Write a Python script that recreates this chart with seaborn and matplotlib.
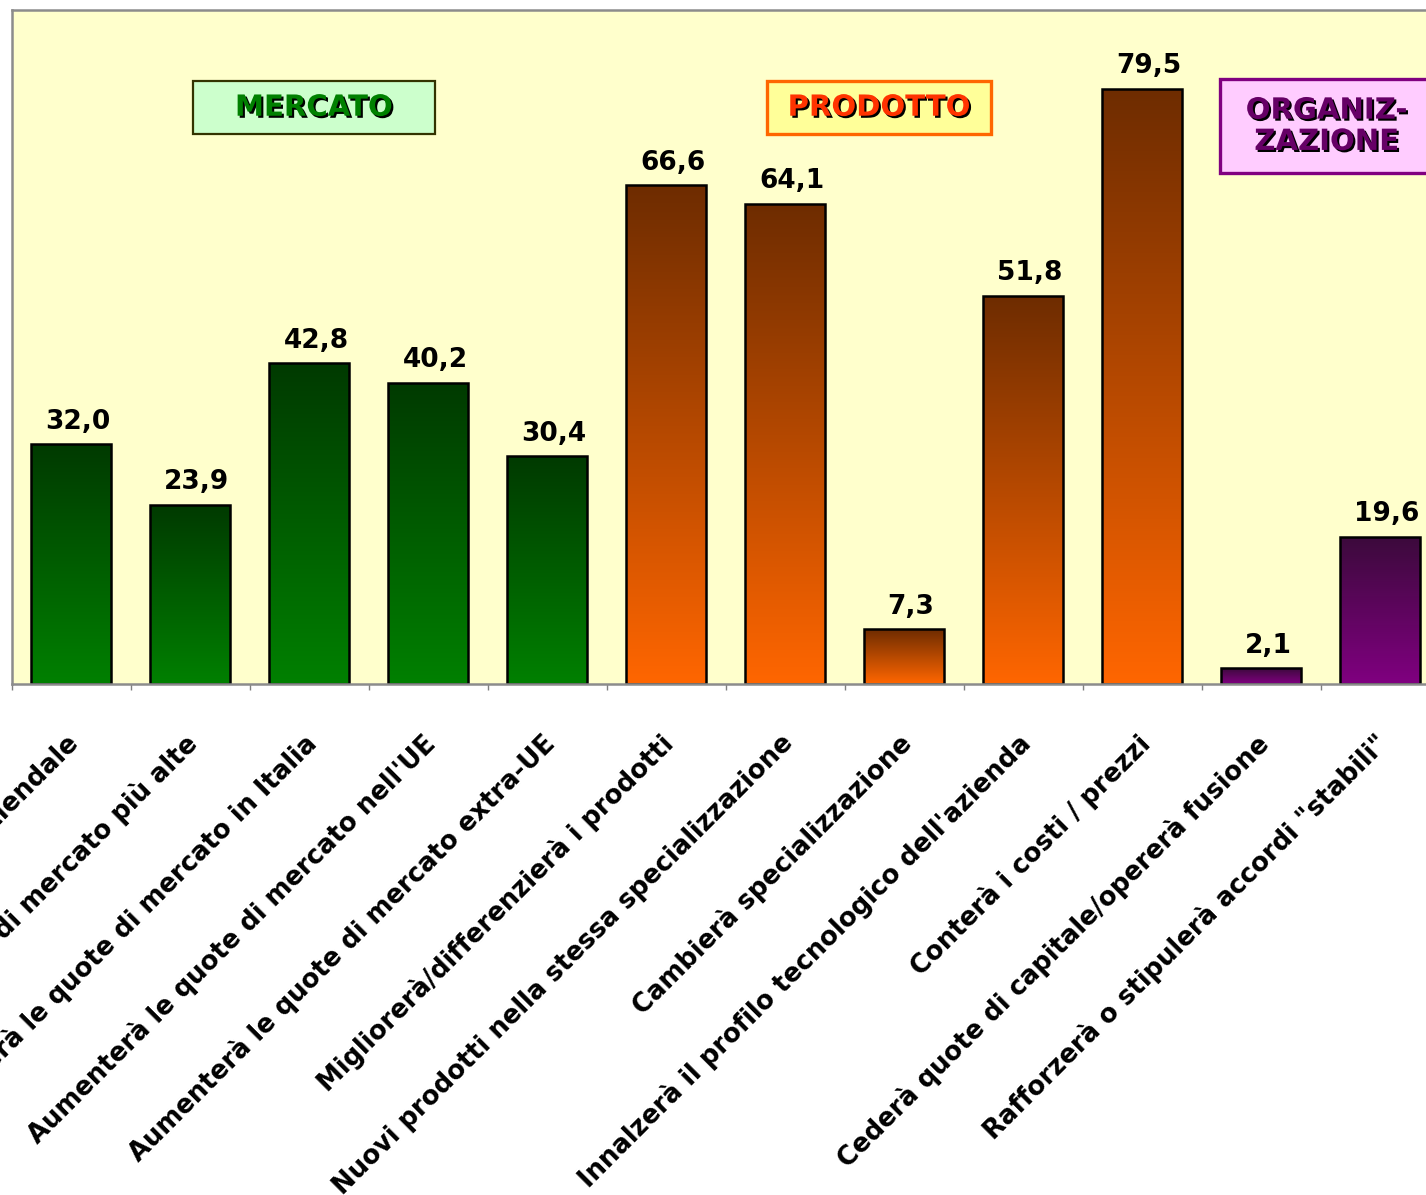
import numpy as np
import pandas as pd
import matplotlib
matplotlib.use("Agg")
import matplotlib.pyplot as plt
import matplotlib.patheffects as pe
from matplotlib.patches import Rectangle
from matplotlib.colors import to_rgb
from matplotlib.transforms import ScaledTranslation
from matplotlib.ticker import FixedLocator
import seaborn as sns

# --- data -----------------------------------------------------------------
voci = [
    "Aumenterà la dimensione aziendale",
    "Conquisterà quote di mercato più alte",
    "Aumenterà le quote di mercato in Italia",
    "Aumenterà le quote di mercato nell'UE",
    "Aumenterà le quote di mercato extra-UE",
    "Migliorerà/differenzierà i prodotti",
    "Nuovi prodotti nella stessa specializzazione",
    "Cambierà specializzazione",
    "Innalzerà il profilo tecnologico dell'azienda",
    "Conterà i costi / prezzi",
    "Cederà quote di capitale/opererà fusione",
    "Rafforzerà o stipulerà accordi \"stabili\"",
]
quote = [32.0, 23.9, 42.8, 40.2, 30.4, 66.6, 64.1, 7.3, 51.8, 79.5, 2.1, 19.6]
aree = ["Mercato"] * 5 + ["Prodotto"] * 5 + ["Organizzazione"] * 2

# gradient colours per area: (top, bottom)
gradienti = {
    "Mercato": ("#003A00", "#008000"),
    "Prodotto": ("#6E2C00", "#FF6600"),
    "Organizzazione": ("#3C0A3C", "#800080"),
}

df = pd.DataFrame({"voce": voci, "quota": quote, "area": aree})

# --- figure ---------------------------------------------------------------
sns.set_style("white")
plt.rcParams["font.family"] = ["DejaVu Sans"]
plt.rcParams["font.weight"] = "bold"
plt.rcParams["text.color"] = "black"
plt.rcParams["xtick.labelcolor"] = "black"

W, H = 1426, 1195
fig = plt.figure(figsize=(W / 100, H / 100), dpi=100, facecolor="white")
ax = fig.add_axes([11.5 / W, 511 / H, 1428 / W, 674 / H])
ax.set_facecolor("#FFFFCC")

sns.barplot(
    data=df, x="voce", y="quota", hue="area",
    palette={k: v[1] for k, v in gradienti.items()},
    dodge=False, width=0.672, legend=False,
    edgecolor="black", linewidth=1.8, ax=ax, order=voci,
)

# replace the flat fill of each bar with a vertical gradient
ramp = np.linspace(0.0, 1.0, 256)[:, None, None]
for patch in list(ax.patches):
    h = patch.get_height()
    if not np.isfinite(h) or h <= 0:
        continue
    x0 = patch.get_x()
    w = patch.get_width()
    idx = int(round(x0 + w / 2))
    top, bottom = (np.array(to_rgb(c)) for c in gradienti[aree[idx]])
    img = top[None, None, :] * (1 - ramp) + bottom[None, None, :] * ramp
    im = ax.imshow(img, extent=(x0, x0 + w, 0, h), origin="upper",
                   aspect="auto", interpolation="bilinear", zorder=1.5)
    im.set_clip_path(patch)
    patch.set_facecolor("none")
    patch.set_zorder(2)

# value labels
for cont in ax.containers:
    anns = ax.bar_label(cont, fmt=lambda v: f"{v:.1f}".replace(".", ","),
                        padding=7, fontsize=19, fontweight="bold", color="black")
    for a in anns:
        a.xyann = (5, 7)

ax.set_xlim(-0.5, len(voci) - 0.5)
ax.set_ylim(0, 90)
ax.set_xlabel("")
ax.set_ylabel("")
ax.set_yticks([])

# category labels, rotated
ax.set_xticks(range(len(voci)))
ax.set_xticklabels(voci, rotation=45, ha="right", va="center",
                   rotation_mode="anchor", fontsize=18.6, fontweight="bold",
                   color="black")
ax.tick_params(axis="x", which="major", length=0, pad=40, labelcolor="black")
shift = ScaledTranslation(4 / 100, 0, fig.dpi_scale_trans)
for lab in ax.get_xticklabels():
    lab.set_transform(lab.get_transform() + shift)
ax.xaxis.set_minor_locator(FixedLocator(np.arange(-0.5, len(voci), 1.0)))
ax.tick_params(axis="x", which="minor", length=4.5, width=1.0,
               color="#808080", direction="out", bottom=True)

for s in ax.spines.values():
    s.set_visible(True)
    s.set_color("#8C8C8C")
    s.set_linewidth(1.8)

# area boxes
shadow = [pe.withSimplePatchShadow(offset=(1.5, -1.5), shadow_rgbFace="black", alpha=1.0)]
riquadri = [
    ("MERCATO", 1.025, 73.4, 2.034, 7.1, "#CCFFCC", "#333300", 1.6, "#008000", 2.04),
    ("PRODOTTO", 5.849, 73.4, 1.882, 7.1, "#FFFF99", "#FF6600", 2.4, "#FF3300", 6.79),
    ("ORGANIZ-\nZAZIONE", 9.655, 68.2, 1.80, 12.55, "#FFCCFF", "#800080", 2.4, "#660066", 10.55),
]
for testo, x, y, w, h, fc, ec, lw, tc, xc in riquadri:
    ax.add_patch(Rectangle((x, y), w, h, facecolor=fc, edgecolor=ec,
                           linewidth=lw, zorder=3, clip_on=False))
    ax.text(xc, y + h / 2, testo,
            ha="center", va="center", fontsize=21, fontweight="bold",
            color=tc, linespacing=1.15, zorder=4, path_effects=shadow)

fig.savefig("out.png", dpi=100, facecolor="white")
